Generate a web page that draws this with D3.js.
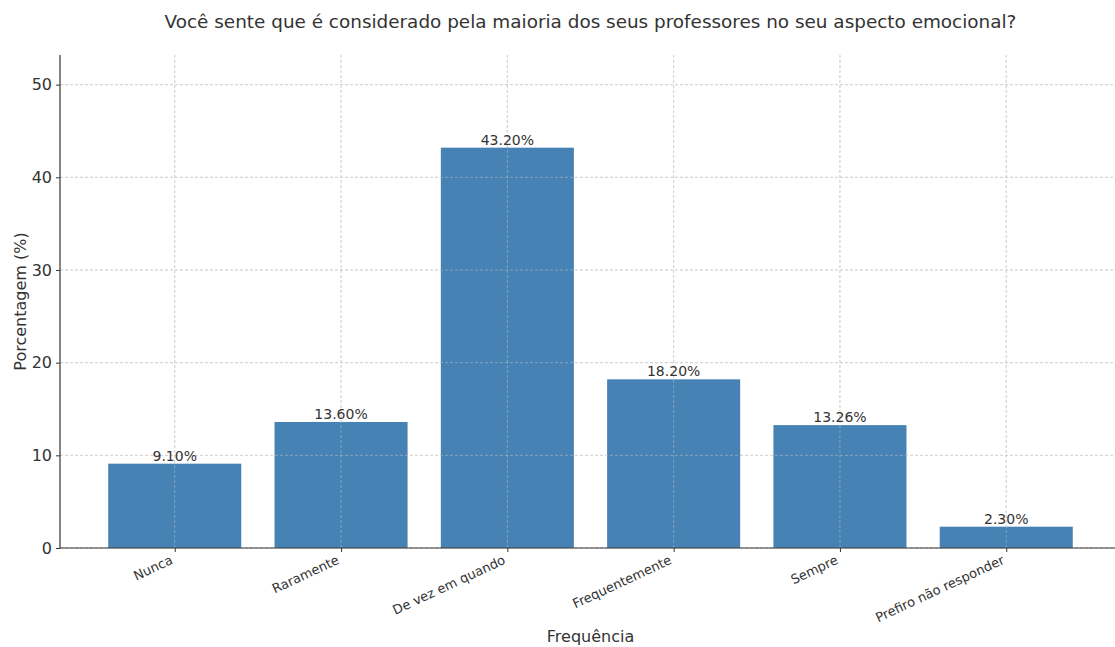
<!DOCTYPE html>
<html><head><meta charset="utf-8">
<script src="https://cdn.jsdelivr.net/npm/d3@7"></script>
<style>body{margin:0;background:#fff;} text{font-family:"DejaVu Sans",sans-serif;fill:#333;}</style>
</head><body><svg id="c" width="1115" height="647"></svg>
<script>
const categories = ["Nunca","Raramente","De vez em quando","Frequentemente","Sempre","Prefiro não responder"];
const values = [9.10, 13.60, 43.20, 18.20, 13.26, 2.30];
const yTicks = [0,10,20,30,40,50];
const title = "Você sente que é considerado pela maioria dos seus professores no seu aspecto emocional?";
const xLabel = "Frequência";
const yLabel = "Porcentagem (%)";

const svg = d3.select("#c");
const L = 60, R = 1121, T = 55, B = 548;
const x = d3.scaleLinear().domain([-0.69, categories.length - 1 + 0.69]).range([L, R]);
const y = d3.scaleLinear().domain([0, d3.max(values) + 10]).range([B, T]);
const bw = (x(1) - x(0)) * 0.8;

// grid
svg.append("g").selectAll("line").data(yTicks).join("line")
  .attr("x1", L).attr("x2", R).attr("y1", d => y(d)).attr("y2", d => y(d))
  .attr("stroke", "#d0d0d0").attr("stroke-dasharray", "3,2").attr("stroke-width", 0.8);
svg.append("g").selectAll("line").data(categories).join("line")
  .attr("x1", (d,i) => x(i)).attr("x2", (d,i) => x(i)).attr("y1", T).attr("y2", B)
  .attr("stroke", "#d0d0d0").attr("stroke-dasharray", "3,2").attr("stroke-width", 0.8);

// bars
svg.append("g").selectAll("rect").data(values).join("rect")
  .attr("x", (d,i) => x(i) - bw/2).attr("width", bw)
  .attr("y", d => y(d)).attr("height", d => y(0) - y(d))
  .attr("fill", "#4682b4");

// grid over bars
svg.append("g").selectAll("line").data(categories).join("line")
  .attr("x1", (d,i) => x(i)).attr("x2", (d,i) => x(i)).attr("y1", T).attr("y2", B)
  .attr("stroke", "#c8c8c8").attr("stroke-opacity", 0.6).attr("stroke-dasharray", "3,2").attr("stroke-width", 0.8);
svg.append("g").selectAll("line").data(yTicks).join("line")
  .attr("x1", L).attr("x2", R).attr("y1", d => y(d)).attr("y2", d => y(d))
  .attr("stroke", "#c8c8c8").attr("stroke-opacity", 0.6).attr("stroke-dasharray", "3,2").attr("stroke-width", 0.8);

// value labels
svg.append("g").selectAll("text").data(values).join("text")
  .attr("x", (d,i) => x(i)).attr("y", d => y(d) - 3)
  .attr("text-anchor", "middle").attr("font-size", 14)
  .text(d => d.toFixed(2) + "%");

// axes
const yAxis = d3.axisLeft(y).tickValues(yTicks).tickSize(4).tickPadding(4);
const gy = svg.append("g").attr("transform", `translate(${L},0)`).call(yAxis);
gy.select(".domain").attr("d", `M0,${T}V${B}`).attr("stroke", "#333").attr("stroke-width", 1.2);
gy.selectAll(".tick line").attr("stroke", "#333");
gy.selectAll(".tick text").attr("font-size", 16).attr("font-family", "DejaVu Sans").attr("fill", "#333");

const xAxis = d3.axisBottom(x).tickValues(d3.range(categories.length)).tickFormat(i => categories[i]).tickSize(4);
const gx = svg.append("g").attr("transform", `translate(0,${B})`).call(xAxis);
gx.select(".domain").attr("d", `M${L},0H${R}`).attr("stroke", "#333").attr("stroke-width", 1.2);
gx.selectAll(".tick line").attr("stroke", "#333");
gx.selectAll(".tick text").attr("font-size", 13).attr("font-family", "DejaVu Sans").attr("fill", "#333")
  .attr("text-anchor", "end").attr("dy", null).attr("y", 0)
  .attr("transform", "translate(-3,12) rotate(-25)").attr("dominant-baseline", "middle");

// titles
svg.append("text").attr("x", (L + R)/2).attr("y", 28).attr("text-anchor", "middle").attr("font-size", 18.4).text(title);
svg.append("text").attr("x", (L + R)/2).attr("y", 642).attr("text-anchor", "middle").attr("font-size", 16).text(xLabel);
svg.append("text").attr("transform", `translate(26,${(T+B)/2}) rotate(-90)`).attr("text-anchor", "middle").attr("font-size", 16).text(yLabel);
</script></body></html>
